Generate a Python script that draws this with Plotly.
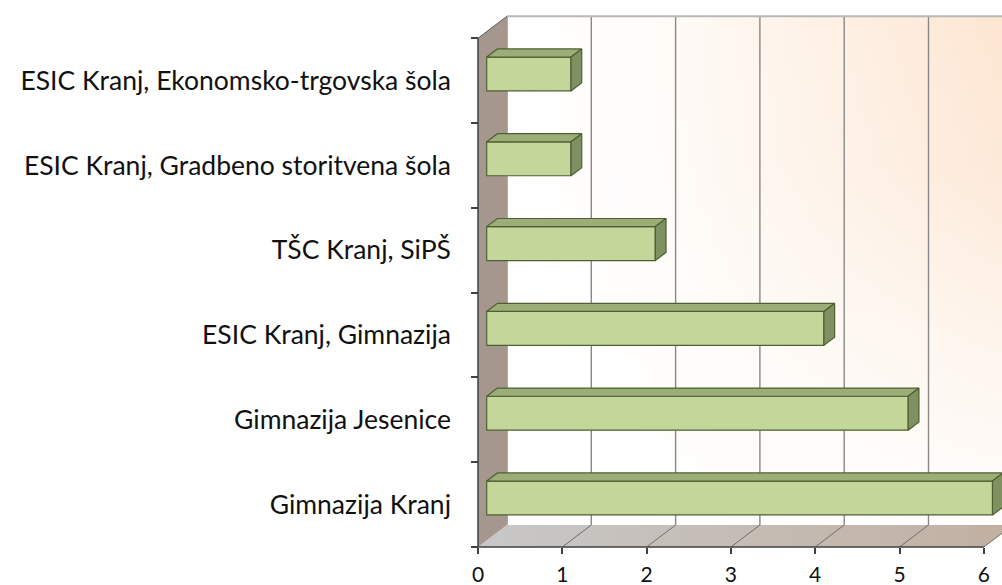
import plotly.graph_objects as go

# ---------------- data ----------------
categories = [
    "Gimnazija Kranj",
    "Gimnazija Jesenice",
    "ESIC Kranj, Gimnazija",
    "TŠC Kranj, SiPŠ",
    "ESIC Kranj, Gradbeno storitvena šola",
    "ESIC Kranj, Ekonomsko-trgovska šola",
]
values = [6, 5, 4, 2, 1, 1]
x_ticks = [0, 1, 2, 3, 4, 5, 6]

# ---------------- 3D-look geometry (in axis units) ----------------
PX = 84.3          # px per x unit
PY = 84.8          # px per category
DX = 29 / PX       # depth offset along x
DY = 22 / PY       # depth offset along y
F1, F2 = 0.30, 0.67  # bar front/back depth fractions
HALF = 0.20        # half bar thickness
XMAX = x_ticks[-1]
NCAT = len(categories)
ypos = list(range(NCAT))
y_lo, y_hi = -0.5, NCAT - 0.5

W, H = 1002, 585
ML, MR, MT, MB = 470, 0, 8, 30
plot_w = W - ML - MR
plot_h = H - MT - MB
x0_px = 478 - ML            # pixel offset of x=0 inside plot area
yb_px = (H - MB) - 547      # pixel offset of front bottom inside plot area
xr = [-x0_px / PX, -x0_px / PX + plot_w / PX]
yr = [y_lo - yb_px / PY, y_lo - yb_px / PY + plot_h / PY]

fig = go.Figure()

# back wall (horizontal + vertical gradient)
bw_x = [DX, XMAX + DX, XMAX + DX, DX, DX]
bw_y = [y_lo + DY, y_lo + DY, y_hi + DY, y_hi + DY, y_lo + DY]
fig.add_trace(go.Scatter(
    x=bw_x, y=bw_y, fill="toself", mode="lines", line=dict(width=0),
    fillgradient=dict(type="horizontal",
                      colorscale=[[0, "#ffffff"], [0.25, "#fffdfb"], [1, "#fde5d1"]]),
    hoverinfo="skip", showlegend=False))
fig.add_trace(go.Scatter(
    x=bw_x, y=bw_y, fill="toself", mode="lines", line=dict(width=0),
    fillgradient=dict(type="vertical",
                      colorscale=[[0, "rgba(255,255,255,0.95)"],
                                  [0.35, "rgba(255,255,255,0.6)"],
                                  [0.7, "rgba(255,255,255,0.15)"],
                                  [1, "rgba(255,255,255,0)"]]),
    hoverinfo="skip", showlegend=False))

# back wall gridlines
gx, gy = [], []
for k in x_ticks:
    gx += [k + DX, k + DX, None]
    gy += [y_lo + DY, y_hi + DY, None]
fig.add_trace(go.Scatter(x=gx, y=gy, mode="lines",
                         line=dict(color="#888888", width=1.4),
                         hoverinfo="skip", showlegend=False))
fig.add_trace(go.Scatter(x=[DX, XMAX + DX], y=[y_hi + DY, y_hi + DY], mode="lines",
                         line=dict(color="#b8b8b8", width=2),
                         hoverinfo="skip", showlegend=False))

# floor
fig.add_trace(go.Scatter(
    x=[0, XMAX, XMAX + DX, DX, 0], y=[y_lo, y_lo, y_lo + DY, y_lo + DY, y_lo],
    fill="toself", mode="lines", line=dict(width=0),
    fillgradient=dict(type="horizontal",
                      colorscale=[[0, "#c8c8c8"], [1, "#c2b0a1"]]),
    hoverinfo="skip", showlegend=False))
fx, fy = [], []
for k in x_ticks[1:]:
    fx += [k, k + DX, None]
    fy += [y_lo, y_lo + DY, None]
fig.add_trace(go.Scatter(x=fx, y=fy, mode="lines",
                         line=dict(color="#6e6e6e", width=1),
                         hoverinfo="skip", showlegend=False))

# left wall
fig.add_trace(go.Scatter(
    x=[0, DX, DX, 0, 0], y=[y_lo, y_lo + DY, y_hi + DY, y_hi, y_lo],
    fill="toself", mode="lines", line=dict(width=0), fillcolor="#a5978d",
    hoverinfo="skip", showlegend=False))
fig.add_trace(go.Scatter(x=[0, DX], y=[y_hi, y_hi + DY], mode="lines",
                         line=dict(color="#5a5a5a", width=1),
                         hoverinfo="skip", showlegend=False))

# axis lines
fig.add_trace(go.Scatter(x=[0, 0, XMAX], y=[y_hi, y_lo, y_lo], mode="lines",
                         line=dict(color="#404040", width=1.5),
                         hoverinfo="skip", showlegend=False))

# ---------------- bars (overlay subplot) ----------------
fig.add_trace(go.Bar(
    orientation="h", y=[p + F1 * DY for p in ypos], x=values, base=F1 * DX,
    width=2 * HALF, marker=dict(color="#c4d79b", line=dict(color="#4f5f35", width=1.2)),
    xaxis="x2", yaxis="y2", hoverinfo="skip", showlegend=False))

tx, ty, rx, ry = [], [], [], []
for p, v in zip(ypos, values):
    tx += [F1 * DX, v + F1 * DX, v + F2 * DX, F2 * DX, F1 * DX, None]
    ty += [p + HALF + F1 * DY, p + HALF + F1 * DY, p + HALF + F2 * DY,
           p + HALF + F2 * DY, p + HALF + F1 * DY, None]
    rx += [v + F1 * DX, v + F1 * DX, v + F2 * DX, v + F2 * DX, v + F1 * DX, None]
    ry += [p - HALF + F1 * DY, p + HALF + F1 * DY, p + HALF + F2 * DY,
           p - HALF + F2 * DY, p - HALF + F1 * DY, None]
fig.add_trace(go.Scatter(x=tx, y=ty, fill="toself", fillcolor="#9bae78",
                         mode="lines", line=dict(color="#4f5f35", width=1.2),
                         xaxis="x2", yaxis="y2", hoverinfo="skip", showlegend=False))
fig.add_trace(go.Scatter(x=rx, y=ry, fill="toself", fillcolor="#7f9161",
                         mode="lines", line=dict(color="#4f5f35", width=1.2),
                         xaxis="x2", yaxis="y2", hoverinfo="skip", showlegend=False))

FONT_Y = dict(family="Lato, Arial, sans-serif", size=26.5, color="#111111")
FONT_X = dict(family="Lato, Arial, sans-serif", size=21, color="#111111")

fig.update_layout(
    width=W, height=H,
    margin=dict(l=ML, r=MR, t=MT, b=MB, autoexpand=False),
    paper_bgcolor="white", plot_bgcolor="white",
    showlegend=False,
    xaxis=dict(range=xr, showgrid=False, zeroline=False, showline=False,
               automargin=False,
               tickmode="array", tickvals=x_ticks, ticktext=[str(t) for t in x_ticks],
               ticks="outside", ticklen=6, tickwidth=1.5, tickcolor="#404040",
               tickfont=FONT_X, anchor="free", position=yb_px / plot_h,
               ticklabelstandoff=3),
    yaxis=dict(range=yr, showgrid=False, zeroline=False, showline=False,
               automargin=False,
               tickmode="array", tickvals=[y_lo + i for i in range(NCAT + 1)],
               showticklabels=False, ticks="outside", ticklen=7, tickwidth=1.5,
               tickcolor="#404040", anchor="free", position=x0_px / plot_w),
    xaxis2=dict(range=xr, overlaying="x", visible=False, anchor="y2",
                automargin=False),
    yaxis2=dict(range=yr, overlaying="y", side="left", anchor="free",
                automargin=False,
                position=x0_px / plot_w, showgrid=False, zeroline=False,
                showline=False, tickmode="array", tickvals=ypos,
                ticktext=categories, ticks="", tickfont=FONT_Y,
                ticklabelstandoff=27),
)

fig.write_html(
    "out.html",
    config={"displayModeBar": False},
    post_script="document.body.style.margin='0px';document.body.style.overflow='hidden';",
)
